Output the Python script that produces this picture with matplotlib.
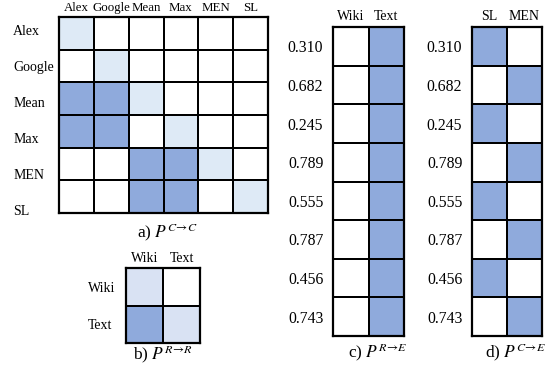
import numpy as np
import matplotlib
matplotlib.use("Agg")
from matplotlib import pyplot as plt
from matplotlib.colors import ListedColormap

plt.rcParams['font.family'] = ['Liberation Serif', 'DejaVu Serif']
plt.rcParams['mathtext.fontset'] = 'stix'

# 0 = empty, 1 = diagonal (light), 2 = link (dark)
cc_labels = ["Alex", "Google", "Mean", "Max", "MEN", "SL"]
cc_matrix = [
    [1, 0, 0, 0, 0, 0],
    [0, 1, 0, 0, 0, 0],
    [2, 2, 1, 0, 0, 0],
    [2, 2, 0, 1, 0, 0],
    [0, 0, 2, 2, 1, 0],
    [0, 0, 2, 2, 0, 1],
]

rr_labels = ["Wiki", "Text"]
rr_matrix = [
    [1, 0],
    [2, 1],
]

entity_scores = ["0.310", "0.682", "0.245", "0.789", "0.555", "0.787", "0.456", "0.743"]
re_cols = ["Wiki", "Text"]
re_matrix = [[0, 2]] * 8

ce_cols = ["SL", "MEN"]
ce_matrix = [[2, 0], [0, 2], [2, 0], [0, 2], [2, 0], [0, 2], [2, 0], [0, 2]]

dark = "#8faadc"
light_a = "#deeaf6"
light_b = "#d9e2f3"

W, H = 549, 370
fig = plt.figure(figsize=(W / 100, H / 100), dpi=100)


def px_axes(x0, y0, x1, y1):
    return fig.add_axes([x0 / W, 1 - y1 / H, (x1 - x0) / W, (y1 - y0) / H])


def grid_panel(ax, mat, cols, rows, light, row_ha, row_pad, row_size,
               top_pad, top_size=10, row_pos=None):
    data = np.array(mat)
    cmap = ListedColormap(["white", light, dark])
    ax.pcolormesh(data, cmap=cmap, vmin=-0.5, vmax=2.5,
                  edgecolors="black", linewidth=1.4)
    ax.set_xlim(0, data.shape[1])
    ax.set_ylim(data.shape[0], 0)
    ax.xaxis.tick_top()
    ax.set_xticks(np.arange(data.shape[1]) + 0.5)
    ax.set_xticklabels(cols, fontsize=top_size)
    if row_pos is None:
        row_pos = np.arange(data.shape[0]) + 0.5
    ax.set_yticks(row_pos)
    ax.set_yticklabels(rows, fontsize=row_size, ha=row_ha)
    ax.tick_params(axis="both", length=0)
    ax.tick_params(axis="x", pad=top_pad)
    ax.tick_params(axis="y", pad=row_pad)
    for s in ax.spines.values():
        s.set_linewidth(1.6)


ax_a = px_axes(59, 17, 268, 213)
# row labels in a) drift slightly downward relative to the cells
grid_panel(ax_a, cc_matrix, cc_labels, cc_labels, light_a, "left", 33, 10, 2,
           top_size=9.3, row_pos=0.4 + 1.1 * np.arange(6))

ax_b = px_axes(126, 268, 200, 343)
grid_panel(ax_b, rr_matrix, rr_labels, rr_labels, light_b, "left", 27.5, 10, 2)

ax_c = px_axes(333, 27, 404, 336)
grid_panel(ax_c, re_matrix, re_cols, entity_scores, light_a, "right", 7, 11.3, 3)

ax_d = px_axes(472, 27, 542, 336)
grid_panel(ax_d, ce_matrix, ce_cols, entity_scores, light_a, "right", 7, 11.3, 3)

cap = dict(ha="center", va="center", fontsize=12.5)
fig.text(167 / W, 1 - 233 / H, r"a) $P^{C\!\rightarrow\!C}$", **cap)
fig.text(163 / W, 1 - 355 / H, r"b) $P^{R\!\rightarrow\!R}$", **cap)
fig.text(378 / W, 1 - 353 / H, r"c) $P^{R\!\rightarrow\!E}$", **cap)
fig.text(516 / W, 1 - 353 / H, r"d) $P^{C\!\rightarrow\!E}$", **cap)

fig.savefig("out.png", dpi=100)
